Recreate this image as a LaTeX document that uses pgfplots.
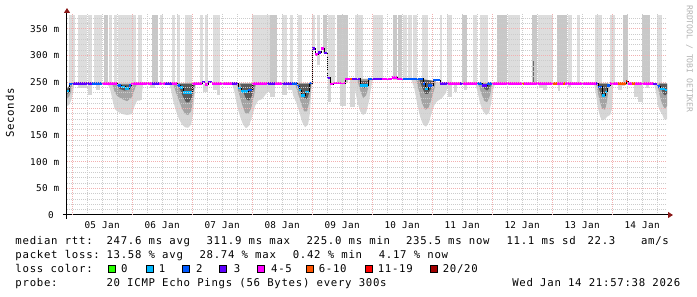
\documentclass[border=0pt]{standalone}
\usepackage{fontspec}
\usepackage{pgfplots}
\pgfplotsset{compat=1.18}
\usetikzlibrary{arrows.meta}
\newfontfamily\rrdfont[LetterSpace=6.8]{DejaVu Sans Mono}
\newfontfamily\rrdaxisfont[LetterSpace=4.0]{DejaVu Sans Mono}
\newfontfamily\rrdsmallfont{DejaVu Sans Mono}
\definecolor{lc0}{HTML}{26FF00}
\definecolor{lc1}{HTML}{00B8FF}
\definecolor{lc2}{HTML}{0059FF}
\definecolor{lc3}{HTML}{5E00FF}
\definecolor{lc4}{HTML}{FF00FF}
\definecolor{lc6}{HTML}{FF5500}
\definecolor{lc11}{HTML}{FF0000}
\definecolor{lc20}{HTML}{A10000}
\definecolor{smokeL}{HTML}{DDDDDD}
\definecolor{smokeM}{HTML}{C8C8C8}
\definecolor{sm1}{HTML}{D6D6D6}
\definecolor{sm2}{HTML}{A4A4A4}
\definecolor{sm3}{HTML}{5A5A5A}
\definecolor{spike}{HTML}{6A6A6A}
\definecolor{gridminor}{HTML}{CCCCCC}
\definecolor{gridmajor}{HTML}{F2B0B0}
\definecolor{arrowred}{HTML}{8B1A1A}
\newcommand{\rbar}[5]{\addplot[fill=#5, draw=none, forget plot] coordinates {(#1,#3) (#1,#4) (#2,#4) (#2,#3)} -- cycle;}
\newcommand{\seg}[4]{\addplot[draw=#4, line width=2.6pt, line cap=butt, forget plot] coordinates {(#1,#3) (#2,#3)};}
\tikzset{leg/.style={anchor=base west, inner sep=0pt, font=\rrdfont\fontsize{10.67}{12}\selectfont}}
\begin{document}
\begin{tikzpicture}[x=1pt,y=1pt]
\path (0,0) rectangle (697,297);
\begin{axis}[
  at={(67pt,82pt)}, anchor=south west,
  scale only axis, width=600pt, height=201pt,
  xmin=-2.04, xmax=237.96, ymin=0, ymax=378,
  axis on top,
  axis x line=bottom, axis y line=left,
  axis line style={line width=1pt, black},
  x axis line style={shorten <=-4pt, shorten >=-6pt, -{Triangle[length=5pt,width=6pt,color=arrowred]}},
  y axis line style={shorten <=-4pt, shorten >=-6pt, -{Triangle[length=5pt,width=6pt,color=arrowred]}},
  xtick={12,36,...,228},
  xticklabels={05 Jan,06 Jan,07 Jan,08 Jan,09 Jan,10 Jan,11 Jan,12 Jan,13 Jan,14 Jan},
  minor xtick={6,12,...,234},
  extra x ticks={0,24,...,216},
  extra x tick labels={},
  extra x tick style={grid=major},
  ytick={0,50,...,350},
  yticklabels={0\hphantom{m},50 m,100 m,150 m,200 m,250 m,300 m,350 m},
  minor ytick={10,20,...,370},
  xmajorgrids=false, xminorgrids=true, ymajorgrids=true, yminorgrids=true,
  major grid style={gridmajor, line width=1pt, dash pattern=on 1pt off 1pt},
  minor grid style={gridminor, line width=1pt, dash pattern=on 1pt off 1pt},
  major tick length=0pt, minor tick length=0pt,
  tick label style={font=\rrdaxisfont\fontsize{9.33}{11}\selectfont, inner sep=0pt},
  x tick label style={anchor=north, yshift=-6.5pt},
  y tick label style={anchor=east, xshift=-7.5pt},
]
% upper smoke (pings above the graph top), light
\rbar{-1.2}{1.2}{245}{376}{smokeL}
\rbar{2.4}{6.0}{245}{376}{smokeL}
\rbar{6.4}{8.0}{245}{376}{smokeL}
\rbar{8.8}{12.0}{245}{376}{smokeL}
\rbar{14.8}{16.0}{245}{376}{smokeL}
\rbar{16.8}{18.0}{245}{376}{smokeL}
\rbar{18.4}{25.6}{245}{376}{smokeL}
\rbar{26.4}{28.0}{245}{376}{smokeL}
\rbar{35.2}{36.4}{245}{376}{smokeL}
\rbar{40.0}{41.2}{245}{376}{smokeL}
\rbar{42.0}{43.2}{245}{376}{smokeL}
\rbar{45.2}{48.0}{245}{376}{smokeL}
\rbar{51.2}{52.4}{245}{376}{smokeL}
\rbar{53.2}{54.4}{245}{376}{smokeL}
\rbar{56.4}{59.2}{245}{376}{smokeL}
\rbar{72.0}{79.2}{245}{376}{smokeL}
\rbar{84.0}{86.0}{245}{376}{smokeL}
\rbar{87.2}{88.4}{245}{376}{smokeL}
\rbar{90.4}{92.0}{245}{376}{smokeL}
\rbar{96.0}{97.2}{313}{376}{smokeL}
\rbar{98.0}{99.2}{304}{376}{smokeL}
\rbar{102.4}{105.2}{246}{376}{smokeL}
\rbar{113.2}{116.4}{254}{376}{smokeL}
\rbar{120.4}{124.4}{254}{376}{smokeL}
\rbar{132.4}{134.0}{254}{376}{smokeL}
\rbar{134.4}{136.0}{254}{376}{smokeL}
\rbar{136.4}{138.0}{254}{376}{smokeL}
\rbar{140.0}{142.4}{247}{376}{smokeL}
\rbar{147.2}{148.0}{245}{376}{smokeL}
\rbar{150.0}{152.0}{245}{376}{smokeL}
\rbar{160.4}{162.0}{245}{376}{smokeL}
\rbar{163.2}{166.4}{245}{376}{smokeL}
\rbar{174.4}{179.2}{245}{376}{smokeL}
\rbar{186.4}{192.4}{245}{376}{smokeL}
\rbar{198.4}{200.0}{245}{376}{smokeL}
\rbar{202.0}{203.2}{245}{376}{smokeL}
\rbar{209.2}{212.0}{245}{376}{smokeL}
\rbar{215.2}{217.2}{245}{376}{smokeL}
\rbar{234.0}{236.0}{245}{376}{smokeL}
% upper smoke, mid grey
\rbar{12.8}{14.4}{245}{376}{smokeM}
\rbar{32.0}{34.4}{245}{376}{smokeM}
\rbar{79.2}{82.0}{245}{376}{smokeM}
\rbar{100.4}{102.0}{305}{376}{smokeM}
\rbar{106.0}{110.4}{248}{376}{smokeM}
\rbar{128.4}{130.0}{254}{376}{smokeM}
\rbar{130.4}{132.0}{254}{376}{smokeM}
\rbar{156.0}{158.0}{245}{376}{smokeM}
\rbar{170.0}{174.0}{245}{376}{smokeM}
\rbar{184.0}{186.0}{245}{376}{smokeM}
\rbar{194.0}{198.0}{245}{376}{smokeM}
\rbar{220.4}{222.4}{245}{376}{smokeM}
\rbar{228.0}{231.2}{245}{376}{smokeM}
\rbar{184.2}{184.8}{248}{291}{spike}
% small lower smoke bars
\rbar{2.4}{6.0}{238}{247}{sm1}
\rbar{6.4}{8.0}{226}{247}{sm1}
\rbar{9.6}{11.2}{236}{247}{sm1}
\rbar{26.4}{28.0}{216}{247}{sm1}
\rbar{31.2}{33.2}{238}{247}{sm1}
\rbar{52.4}{54.4}{232}{247}{sm1}
\rbar{56.4}{58.0}{236}{247}{sm1}
\rbar{58.0}{59.2}{226}{247}{sm1}
\rbar{76.0}{79.2}{232}{247}{sm1}
\rbar{79.2}{81.2}{222}{247}{sm1}
\rbar{84.0}{86.0}{226}{247}{sm1}
\rbar{86.4}{88.0}{236}{247}{sm1}
\rbar{98.0}{99.2}{282}{302}{sm1}
\rbar{102.4}{103.6}{212}{258}{sm1}
\rbar{107.2}{109.6}{205}{250}{sm1}
\rbar{111.2}{113.2}{203}{256}{sm1}
\rbar{150.4}{152.0}{222}{247}{sm1}
\rbar{152.8}{154.0}{232}{247}{sm1}
\rbar{156.8}{158.0}{236}{247}{sm1}
\rbar{186.8}{188.4}{238}{247}{sm1}
\rbar{188.4}{190.0}{236}{247}{sm1}
\rbar{194.4}{195.2}{234}{247}{sm1}
\rbar{198.4}{199.6}{240}{247}{sm1}
\rbar{218.4}{220.0}{236}{247}{sm1}
\rbar{220.0}{221.2}{242}{247}{sm1}
\rbar{224.8}{226.4}{222}{247}{sm1}
\rbar{226.4}{228.4}{212}{247}{sm1}
\rbar{229.6}{230.8}{238}{247}{sm1}
% lower smoke around the dips
\addplot[fill=sm1, draw=none, forget plot] coordinates {(-2.04,240)(-2.04,205)(-1.2,207)(-0.4,215)(0.4,230)(0.8,246)} -- cycle;
\addplot[fill=sm2, draw=none, forget plot] coordinates {(-2.04,238)(-2.04,220)(-1.2,222)(-0.4,232)(0,246)} -- cycle;
\addplot[fill=sm3, draw=none, forget plot] coordinates {(-2.04,236)(-2.04,228)(-1.2,230)(-0.8,240)(-0.8,246)} -- cycle;
\addplot[fill=sm1, draw=none, forget plot] coordinates {(14,247)(15,240)(16,220)(17,200)(18,195)(20,190)(22,188)(24,190)(25,205)(26,215)(27.2,215)(28,230)(28.4,247)} -- cycle;
\addplot[fill=sm2, draw=none, forget plot] coordinates {(16,247)(17,232)(18,224)(20,218)(22,214)(24,222)(25,236)(26,247)} -- cycle;
\addplot[fill=sm3, draw=none, forget plot] coordinates {(18,245)(19,237)(21,234)(23,236)(24,245)} -- cycle;
\addplot[fill=sm1, draw=none, forget plot] coordinates {(38.8,247)(39.6,235)(40.4,215)(41.6,195)(42.8,180)(44,170)(45.2,165)(46.4,164)(47.6,170)(48.4,190)(48.8,215)(49.2,235)(49.6,247)} -- cycle;
\addplot[fill=sm2, draw=none, forget plot] coordinates {(40.4,247)(41.6,230)(42.8,215)(44,200)(45.2,190)(46.4,188)(47.6,195)(48.4,215)(48.8,235)(49.2,247)} -- cycle;
\addplot[fill=sm3, draw=none, forget plot] coordinates {(42,247)(43.2,236)(44.4,222)(45.6,212)(46.8,212)(48,222)(48.8,240)(49.2,247)} -- cycle;
\addplot[fill=sm1, draw=none, forget plot] coordinates {(64,247)(65,230)(66,205)(67.2,185)(68.4,170)(69.6,163)(70.8,168)(72,185)(73.2,205)(74.4,215)(76,218)(78,230)(79,247)} -- cycle;
\addplot[fill=sm2, draw=none, forget plot] coordinates {(65.6,247)(66.8,228)(68,208)(69.2,192)(70.4,190)(71.6,200)(72.8,225)(73.6,247)} -- cycle;
\addplot[fill=sm3, draw=none, forget plot] coordinates {(67.2,247)(68.4,232)(69.6,218)(70.8,215)(72,225)(72.8,240)(73.2,247)} -- cycle;
\addplot[fill=sm1, draw=none, forget plot] coordinates {(87.6,247)(88.4,225)(89.6,212)(90.8,195)(92,175)(93.2,165)(94.4,170)(95.2,195)(95.6,230)(96,248)} -- cycle;
\addplot[fill=sm2, draw=none, forget plot] coordinates {(89.2,247)(90.4,228)(91.6,210)(92.8,195)(94,195)(95.2,220)(95.6,247)} -- cycle;
\addplot[fill=sm3, draw=none, forget plot] coordinates {(90.4,247)(91.6,235)(92.8,220)(94,218)(95.2,235)(95.6,247)} -- cycle;
\addplot[fill=sm1, draw=none, forget plot] coordinates {(112,256)(113,240)(114,215)(115.2,195)(116.4,188)(117.6,192)(118.8,215)(119.6,240)(120.4,256)} -- cycle;
\addplot[fill=sm2, draw=none, forget plot] coordinates {(114,256)(115.2,235)(116.4,220)(117.6,225)(118.8,245)(119.2,256)} -- cycle;
\addplot[fill=sm3, draw=none, forget plot] coordinates {(115.2,252)(116.4,238)(117.6,240)(118.4,252)} -- cycle;
\addplot[fill=sm1, draw=none, forget plot] coordinates {(135.6,256)(136.8,240)(138,210)(139.2,185)(140.4,170)(141.6,166)(142.8,175)(144,195)(145.2,210)(146.4,215)(148,220)(149.6,230)(150.4,247)} -- cycle;
\addplot[fill=sm2, draw=none, forget plot] coordinates {(137.6,256)(138.8,232)(140,210)(141.2,198)(142.4,200)(143.6,215)(144.8,235)(145.6,252)} -- cycle;
\addplot[fill=sm3, draw=none, forget plot] coordinates {(138.8,256)(140,240)(141.2,228)(142.4,228)(143.6,238)(144.8,252)} -- cycle;
\addplot[fill=sm1, draw=none, forget plot] coordinates {(161.2,247)(162,235)(163.2,210)(164.4,195)(165.6,188)(166.8,192)(167.6,210)(168.4,235)(169.2,247)} -- cycle;
\addplot[fill=sm2, draw=none, forget plot] coordinates {(162.4,247)(163.6,230)(164.8,215)(166,212)(167.2,225)(168,247)} -- cycle;
\addplot[fill=sm3, draw=none, forget plot] coordinates {(163.6,247)(164.8,238)(166,234)(167.2,240)(167.6,247)} -- cycle;
\addplot[fill=sm1, draw=none, forget plot] coordinates {(208.8,247)(209.6,225)(210.4,200)(211.2,185)(212,178)(213.2,180)(214,185)(215.2,188)(216,200)(216.4,247)} -- cycle;
\addplot[fill=sm2, draw=none, forget plot] coordinates {(209.6,247)(210.4,228)(211.2,212)(212,200)(213.2,198)(214,215)(214.8,247)} -- cycle;
\addplot[fill=sm3, draw=none, forget plot] coordinates {(210,247)(211.2,232)(212,222)(213.2,225)(214,240)(214.4,247)} -- cycle;
\addplot[fill=sm1, draw=none, forget plot] coordinates {(232.8,247)(233.6,230)(234.4,205)(235.2,195)(236,190)(236.8,180)(237.96,180)(237.96,247)} -- cycle;
\addplot[fill=sm2, draw=none, forget plot] coordinates {(234,247)(234.8,230)(235.6,215)(236.4,205)(237.2,200)(237.96,205)(237.96,247)} -- cycle;
\addplot[fill=sm3, draw=none, forget plot] coordinates {(234.8,247)(235.6,238)(236.4,228)(237.2,225)(237.96,228)(237.96,247)} -- cycle;
% median rtt, thin black step line
\addplot[const plot, black, line width=0.8pt, forget plot] coordinates {
(-2.04,233)(-1.2,246)(0.4,247)(18.0,244)(19.6,241)(21.2,238)(22.8,243)(23.6,247)(42.0,243)(43.2,240)(44.4,230)(48.0,247)(52.0,250)(53.2,245)(54.4,250)(56.0,247)(66.4,239)(67.6,232)(70.4,235)(72.0,247)(90.0,242)(90.8,235)(91.6,225)(93.2,231)(94.8,248)(96.0,313)(97.2,302)(98.4,306)(99.6,313)(100.8,305)(102.0,258)(103.2,246)(104.4,248)(109.2,256)(115.2,244)(118.4,256)(128.0,259)(130.0,256)(140.4,247)(141.2,237)(142.4,243)(144.4,254)(147.2,247)(164.0,243)(166.0,247)(210.4,241)(212.0,225)(213.2,231)(214.0,244)(215.2,247)(221.6,252)(222.4,247)(232.4,246)(234.0,242)(235.2,237)(237.2,235)(237.96,235)};
% median rtt, coloured by packet loss
\seg{-2.04}{-1.2}{233}{lc1}
\seg{-1.2}{0.4}{246}{lc2}
\seg{0.4}{8.0}{247}{lc3}
\seg{8.0}{12.0}{247}{lc2}
\seg{12.0}{18.0}{247}{lc4}
\seg{18.0}{19.6}{244}{lc2}
\seg{19.6}{21.2}{241}{lc1}
\seg{21.2}{22.8}{238}{lc1}
\seg{22.8}{23.6}{243}{lc2}
\seg{23.6}{32.0}{247}{lc4}
\seg{32.0}{34.8}{247}{lc3}
\seg{34.8}{37.2}{247}{lc4}
\seg{37.2}{40.0}{247}{lc3}
\seg{40.0}{42.0}{247}{lc4}
\seg{42.0}{43.2}{243}{lc2}
\seg{43.2}{44.4}{240}{lc1}
\seg{44.4}{48.0}{230}{lc1}
\seg{48.0}{52.0}{247}{lc4}
\seg{52.0}{53.2}{250}{lc3}
\seg{53.2}{54.4}{245}{lc4}
\seg{54.4}{56.0}{250}{lc3}
\seg{56.0}{64.0}{247}{lc4}
\seg{64.0}{66.4}{247}{lc3}
\seg{66.4}{67.6}{239}{lc1}
\seg{67.6}{70.4}{232}{lc1}
\seg{70.4}{72.0}{235}{lc2}
\seg{72.0}{78.0}{247}{lc4}
\seg{78.0}{81.2}{247}{lc3}
\seg{81.2}{84.0}{247}{lc4}
\seg{84.0}{88.0}{247}{lc3}
\seg{88.0}{90.0}{247}{lc2}
\seg{90.0}{90.8}{242}{lc2}
\seg{90.8}{91.6}{235}{lc1}
\seg{91.6}{93.2}{225}{lc1}
\seg{93.2}{94.8}{231}{lc1}
\seg{94.8}{96.0}{248}{lc2}
\seg{96.0}{97.2}{313}{lc3}
\seg{97.2}{98.4}{302}{lc4}
\seg{98.4}{99.6}{306}{lc3}
\seg{99.6}{100.8}{313}{lc4}
\seg{100.8}{102.0}{305}{lc3}
\seg{102.0}{103.2}{258}{lc3}
\seg{103.2}{104.4}{246}{lc4}
\seg{104.4}{109.2}{248}{lc4}
\seg{109.2}{111.2}{256}{lc4}
\seg{111.2}{112.0}{256}{lc6}
\seg{112.0}{115.2}{256}{lc3}
\seg{115.2}{118.4}{244}{lc1}
\seg{118.4}{120.0}{256}{lc2}
\seg{120.0}{124.0}{256}{lc3}
\seg{124.0}{128.0}{256}{lc4}
\seg{128.0}{130.0}{259}{lc4}
\seg{130.0}{132.4}{256}{lc4}
\seg{132.4}{140.4}{256}{lc2}
\seg{140.4}{141.2}{247}{lc2}
\seg{141.2}{142.4}{237}{lc1}
\seg{142.4}{144.4}{243}{lc2}
\seg{144.4}{147.2}{254}{lc2}
\seg{147.2}{150.4}{247}{lc3}
\seg{150.4}{155.2}{247}{lc4}
\seg{155.2}{156.4}{247}{lc3}
\seg{156.4}{162.0}{247}{lc4}
\seg{162.0}{164.0}{247}{lc2}
\seg{164.0}{166.0}{243}{lc3}
\seg{166.0}{168.0}{247}{lc2}
\seg{168.0}{180.0}{247}{lc4}
\seg{180.0}{180.8}{247}{lc6}
\seg{180.8}{192.4}{247}{lc4}
\seg{192.4}{194.0}{247}{lc6}
\seg{194.0}{196.4}{247}{lc4}
\seg{196.4}{197.2}{247}{lc6}
\seg{197.2}{209.6}{247}{lc4}
\seg{209.6}{210.4}{247}{lc3}
\seg{210.4}{212.0}{241}{lc2}
\seg{212.0}{213.2}{225}{lc1}
\seg{213.2}{214.0}{231}{lc1}
\seg{214.0}{215.2}{244}{lc2}
\seg{215.2}{218.4}{247}{lc4}
\seg{218.4}{221.6}{247}{lc6}
\seg{221.6}{222.4}{252}{lc11}
\seg{222.4}{224.0}{247}{lc4}
\seg{224.0}{225.2}{247}{lc6}
\seg{225.2}{232.4}{247}{lc4}
\seg{232.4}{234.0}{246}{lc3}
\seg{234.0}{235.2}{242}{lc2}
\seg{235.2}{237.2}{237}{lc1}
\seg{237.2}{237.96}{235}{lc1}
\end{axis}
% axis title and watermark
\node[rotate=90, inner sep=0pt, font=\rrdfont\fontsize{10.67}{12}\selectfont] at (10,184) {Seconds};
\node[rotate=-90, inner sep=0pt, text=black!30, font=\rrdsmallfont\fontsize{8.1}{9}\selectfont] at (689.5,238) {RRDTOOL / TOBI OETIKER};
% legend row 1
\node[leg] at (15.3,52.5) {median rtt:};
\node[leg] at (106.3,52.5) {247.6 ms avg};
\node[leg] at (206.3,52.5) {311.9 ms max};
\node[leg] at (306.3,52.5) {225.0 ms min};
\node[leg] at (405.8,52.5) {235.5 ms now};
\node[leg] at (506.3,52.5) {11.1 ms sd};
\node[leg] at (587.3,52.5) {22.3};
\node[leg] at (640.8,52.5) {am/s};
% legend row 2
\node[leg] at (15.3,38.5) {packet loss:};
\node[leg] at (106.3,38.5) {13.58 \% avg};
\node[leg] at (199.3,38.5) {28.74 \% max};
\node[leg] at (292.6,38.5) {0.42 \% min};
\node[leg] at (378.6,38.5) {4.17 \% now};
% legend row 3
\node[leg] at (15.3,24.5) {loss color:};
\draw[line width=0.8pt, fill=lc0] (108.5,25) rectangle (115.5,32);
\draw[line width=0.8pt, fill=lc1] (146,25) rectangle (153,32);
\draw[line width=0.8pt, fill=lc2] (182.5,25) rectangle (189.5,32);
\draw[line width=0.8pt, fill=lc3] (219.5,25) rectangle (226.5,32);
\draw[line width=0.8pt, fill=lc4] (257,25) rectangle (264,32);
\draw[line width=0.8pt, fill=lc6] (306.3,25) rectangle (313.3,32);
\draw[line width=0.8pt, fill=lc11] (365.3,25) rectangle (372.3,32);
\draw[line width=0.8pt, fill=lc20] (430.5,25) rectangle (437.5,32);
\node[leg] at (121,24.5) {0};
\node[leg] at (158.6,24.5) {1};
\node[leg] at (196,24.5) {2};
\node[leg] at (233.6,24.5) {3};
\node[leg] at (271,24.5) {4-5};
\node[leg] at (318.6,24.5) {6-10};
\node[leg] at (377.6,24.5) {11-19};
\node[leg] at (442.6,24.5) {20/20};
% legend row 4
\node[leg] at (15.3,10.5) {probe:};
\node[leg] at (106.3,10.5) {20 ICMP Echo Pings (56 Bytes) every 300s};
\node[leg, anchor=base east] at (680.5,10.5) {Wed Jan 14 21:57:38 2026};
\end{tikzpicture}
\end{document}
